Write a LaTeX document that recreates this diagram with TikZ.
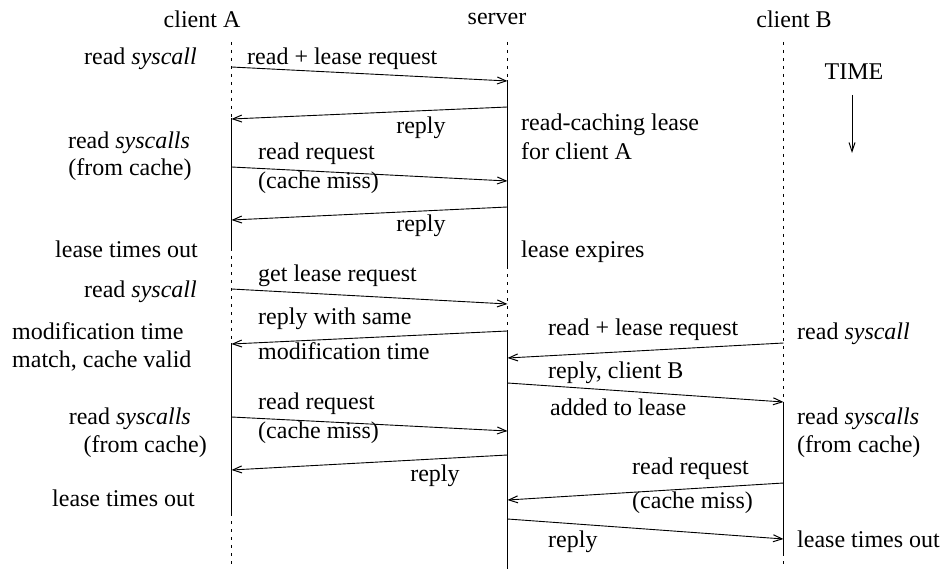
\documentclass[tikz,border=0pt]{standalone}
\usepackage{fontspec}
\setmainfont{Liberation Serif}
\usetikzlibrary{arrows.meta}
\begin{document}
\begin{tikzpicture}[x=1pt,y=-1pt,
  lbl/.style={font=\fontsize{24}{28}\selectfont, inner sep=0pt},
  msg/.style={line width=0.9pt, -{Straight Barb[length=9pt,width=7pt,line width=1pt]}},
  live/.style={line width=1.5pt},
  idle/.style={line width=1.2pt, dash pattern=on 3pt off 5pt},
  timearrow/.style={line width=1pt, -{Straight Barb[length=9pt,width=6pt]}}]
\useasboundingbox (0,0) rectangle (947,569);
% lifeline coordinates
\coordinate (A0) at (231.5,42);  \coordinate (A1) at (231.5,118);
\coordinate (A2) at (231.5,248); \coordinate (A3) at (231.5,343);
\coordinate (A4) at (231.5,513); \coordinate (A5) at (231.5,564);
\coordinate (S0) at (507.5,42);  \coordinate (S1) at (507.5,80);
\coordinate (S2) at (507.5,266); \coordinate (S3) at (507.5,331);
\coordinate (S4) at (507.5,569);
\coordinate (B0) at (783.5,42);    \coordinate (B1) at (783.5,402);
\coordinate (B2) at (783.5,553);   \coordinate (B3) at (783.5,569);
\draw[idle] (A0) -- (A1); \draw[live] (A1) -- (A2);
\draw[idle] (A2) -- (A3); \draw[live] (A3) -- (A4);
\draw[idle] (A4) -- (A5);
\draw[idle] (S0) -- (S1); \draw[live] (S1) -- (S2);
\draw[idle] (S2) -- (S3); \draw[live] (S3) -- (S4);
\draw[idle] (B0) -- (B1); \draw[live] (B1) -- (B2);
\draw[idle] (B2) -- (B3);
% headers
\node[lbl] (hA) at (202,19) {client A};
\node[lbl] (hS) at (497,19) {server};
\node[lbl] (hB) at (794,19) {client B};
\node[lbl] (time) at (854,72) {TIME};
\coordinate (t0) at (852,95); \coordinate (t1) at (852,153);
\draw[timearrow] (t0) -- (t1);
% message endpoints
\coordinate (m1s) at (231.5,67);  \coordinate (m1e) at (507.5,81);
\coordinate (m2s) at (507.5,107); \coordinate (m2e) at (231.5,119);
\coordinate (m3s) at (231.5,167); \coordinate (m3e) at (507.5,181);
\coordinate (m4s) at (507.5,207); \coordinate (m4e) at (231.5,220);
\coordinate (m5s) at (231.5,289); \coordinate (m5e) at (507.5,304);
\coordinate (m6s) at (507.5,331); \coordinate (m6e) at (231.5,344);
\coordinate (m7s) at (783.5,343);   \coordinate (m7e) at (507.5,358);
\coordinate (m8s) at (507.5,383); \coordinate (m8e) at (783.5,402);
\coordinate (m9s) at (231.5,417); \coordinate (m9e) at (507.5,431);
\coordinate (m10s) at (507.5,455); \coordinate (m10e) at (231.5,470);
\coordinate (m11s) at (783.5,483);  \coordinate (m11e) at (507.5,500);
\coordinate (m12s) at (507.5,519); \coordinate (m12e) at (783.5,539);
\foreach \i in {1,...,12} {\draw[msg] (m\i s) -- (m\i e);}
% left side labels
\node[lbl, anchor=mid east] (l1) at (197,62) {read \textit{syscall}};
\node[lbl] (l2) at (129,143) {read \textit{syscalls}};
\node[lbl] (l3) at (130,170) {(from cache)};
\node[lbl, anchor=mid east] (l4) at (198,255) {lease times out};
\node[lbl, anchor=mid east] (l5) at (197,295) {read \textit{syscall}};
\node[lbl, anchor=mid west] (l6) at (12,337) {modification time};
\node[lbl, anchor=mid west] (l7) at (12,365) {match, cache valid};
\node[lbl, anchor=mid east] (l8) at (191,422) {read \textit{syscalls}};
\node[lbl, anchor=mid east] (l9) at (207,450) {(from cache)};
\node[lbl, anchor=mid east] (l10) at (195,504) {lease times out};
% message labels
\node[lbl, anchor=mid west] (t1a) at (247,62) {read + lease request};
\node[lbl] (t2a) at (421,128) {reply};
\node[lbl, anchor=mid west] (t3a) at (258,157) {read request};
\node[lbl, anchor=mid west] (t3b) at (258,186) {(cache miss)};
\node[lbl] (t4a) at (421,226) {reply};
\node[lbl, anchor=mid west] (t5a) at (258,279) {get lease request};
\node[lbl, anchor=mid west] (t6a) at (258,322) {reply with same};
\node[lbl, anchor=mid west] (t6b) at (258,357) {modification time};
\node[lbl, anchor=mid west] (t7a) at (548,333) {read + lease request};
\node[lbl, anchor=mid west] (t8a) at (548,376) {reply, client B};
\node[lbl, anchor=mid west] (t8b) at (550,413) {added to lease};
\node[lbl, anchor=mid west] (t9a) at (258,407) {read request};
\node[lbl, anchor=mid west] (t9b) at (258,436) {(cache miss)};
\node[lbl] (t10a) at (435,476) {reply};
\node[lbl, anchor=mid west] (t11a) at (632,472) {read request};
\node[lbl, anchor=mid west] (t11b) at (632,506) {(cache miss)};
\node[lbl, anchor=mid west] (t12a) at (548,545) {reply};
% server side notes
\node[lbl, anchor=mid west] (s1) at (521,128) {read-caching lease};
\node[lbl, anchor=mid west] (s2) at (521,157) {for client A};
\node[lbl, anchor=mid west] (s3) at (521,255) {lease expires};
% client B side notes
\node[lbl, anchor=mid west] (r1) at (797,337) {read \textit{syscall}};
\node[lbl, anchor=mid west] (r2) at (797,422) {read \textit{syscalls}};
\node[lbl, anchor=mid west] (r3) at (797,450) {(from cache)};
\node[lbl, anchor=mid west] (r4) at (797,545) {lease times out};
\end{tikzpicture}
\end{document}
